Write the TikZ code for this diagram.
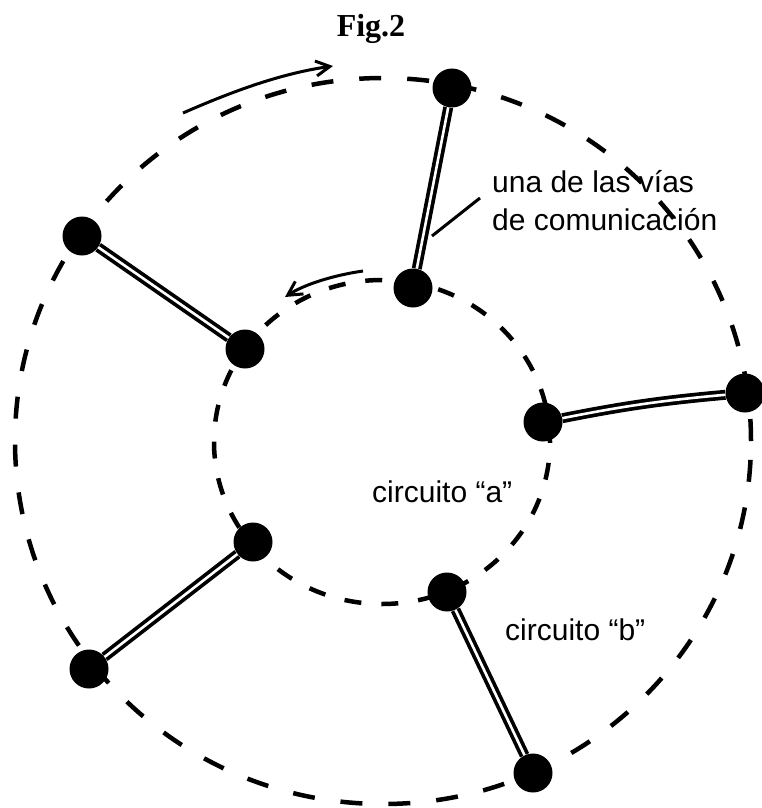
\documentclass[tikz,border=0pt]{standalone}
\usepackage{fontspec}
\setmainfont{Liberation Sans}
\newfontfamily\titlefont{Liberation Serif}
\usetikzlibrary{arrows.meta}
\begin{document}
\begin{tikzpicture}[x=1pt,y=-1pt,
  dot/.style={circle,fill=black,minimum size=39pt,inner sep=0pt},
  ring/.style={line width=4.5pt,dash pattern=on 22pt off 26pt},
  iring/.style={line width=4.5pt,dash pattern=on 17pt off 20pt},
  link/.style={line width=10pt,draw=black,postaction={draw=white,line width=2.6pt}},
  lbl/.style={font=\fontsize{30}{36}\selectfont,inner sep=0pt,anchor=base west},
  arr/.style={line width=3pt,-{Straight Barb[length=14pt,width=15pt,line width=3pt]}},
  pointer/.style={line width=3pt}]
\useasboundingbox (0,0) rectangle (761,808);
\fill[white] (0,0) rectangle (761,808);
% title
\node[font=\titlefont\bfseries\fontsize{32}{38}\selectfont,anchor=base,inner sep=0pt] (title) at (371,37) {Fig.2};
% rings
\draw[ring] (383,441) ellipse [x radius=368pt, y radius=363pt];
\draw[iring] (382,442) ellipse [x radius=168pt, y radius=162pt];
% nodes
\node[dot] (o1) at (452,88) {};
\node[dot] (i1) at (413,288) {};
\node[dot] (o2) at (82,236) {};
\node[dot] (i2) at (245,349) {};
\node[dot] (i3) at (543,422) {};
\node[dot] (o3) at (745,393) {};
\node[dot] (i4) at (253,542) {};
\node[dot] (o4) at (89,669) {};
\node[dot] (i5) at (447,592) {};
\node[dot] (o5) at (533,773) {};
% links
\draw[link] (o1) -- (i1);
\draw[link] (o2) -- (i2);
\draw[link] (i3) to[bend left=3] (o3);
\draw[link] (i4) -- (o4);
\draw[link] (i5) -- (o5);
% labels
\node[lbl] (l1) at (492,192) {una de las vías};
\node[lbl] (l2) at (492,230) {de comunicación};
\node[lbl] (ca) at (372,502) {circuito “a”};
\node[lbl] (cb) at (505,640) {circuito “b”};
% pointer
\coordinate (p1) at (480,198);
\coordinate (p2) at (432,236);
\draw[pointer] (p1) -- (p2);
% arrows
\coordinate (a1s) at (183,113);
\coordinate (a1e) at (333,66);
\draw[arr] (a1s) .. controls (240,88) and (285,73) .. (a1e);
\coordinate (a2s) at (363,271);
\coordinate (a2e) at (285,297);
\draw[arr] (a2s) .. controls (335,275) and (305,284) .. (a2e);
\end{tikzpicture}
\end{document}
